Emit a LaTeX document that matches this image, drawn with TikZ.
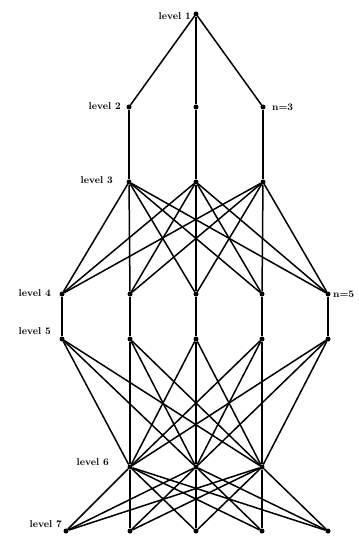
\documentclass[tikz,border=0pt]{standalone}
\begin{document}
\begin{tikzpicture}[x=1bp,y=-1bp,
  dot/.style={circle,fill=black,inner sep=0pt,minimum size=5bp},
  edge/.style={line width=1.5bp},
  lab/.style={font=\bfseries\fontsize{10}{11}\selectfont,inner sep=0pt}]
\useasboundingbox (0,0) rectangle (358,541);
% nodes
\node[dot] (a1) at (196,14) {};
\node[dot] (b1) at (129,107) {};
\node[dot] (b2) at (196,107) {};
\node[dot] (b3) at (263,107) {};
\node[dot] (c1) at (129,182) {};
\node[dot] (c2) at (196,182) {};
\node[dot] (c3) at (263,182) {};
\foreach \i/\x in {1/62,2/130,3/196,4/262,5/328}{
  \node[dot] (d\i) at (\x,294) {};
  \node[dot] (e\i) at (\x,339) {};
}
\node[dot] (f1) at (130,467) {};
\node[dot] (f2) at (196,467) {};
\node[dot] (f3) at (262,467) {};
\foreach \i/\x in {1/66,2/130,3/196,4/262,5/328}{
  \node[dot] (g\i) at (\x,531) {};
}
% edges
\foreach \i in {1,2,3}{
  \draw[edge] (a1) -- (b\i);
  \draw[edge] (b\i) -- (c\i);
  \foreach \j in {1,...,5}{
    \draw[edge] (c\i) -- (d\j);
    \draw[edge] (e\j) -- (f\i);
    \draw[edge] (f\i) -- (g\j);
  }
}
\foreach \j in {1,...,5}{
  \draw[edge] (d\j) -- (e\j);
}
% labels
\node[lab,anchor=east] (l1) at (191,16) {level 1};
\node[lab,anchor=east] (l2) at (121,106) {level 2};
\node[lab,anchor=west] (n3) at (272,107) {n=3};
\node[lab,anchor=east] (l3) at (113,180) {level 3};
\node[lab,anchor=east] (l4) at (51,293) {level 4};
\node[lab,anchor=west] (n5) at (333,294) {n=5};
\node[lab,anchor=east] (l5) at (51,331) {level 5};
\node[lab,anchor=east] (l6) at (109,462) {level 6};
\node[lab,anchor=east] (l7) at (62,524) {level 7};
\end{tikzpicture}
\end{document}
